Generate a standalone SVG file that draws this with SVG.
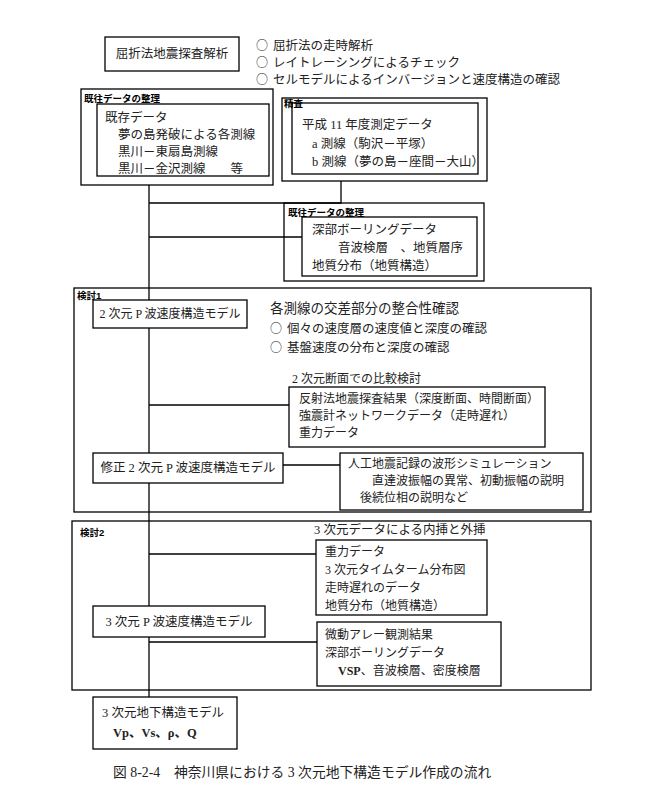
<svg xmlns="http://www.w3.org/2000/svg" width="660" height="788" viewBox="0 0 660 788">
<style>
.b{fill:#fff;stroke:#000;stroke-width:1.3}
.c{fill:none;stroke:#000;stroke-width:1.3}
.t{font-family:"Liberation Serif","Noto Sans CJK JP",serif;font-size:12.5px;fill:#222}
.m{text-anchor:middle}
.h{font-size:13.5px}
.s{font-size:12px}
.o{font-family:"Noto Sans CJK JP",sans-serif;font-size:12px}
.l{font-family:"Liberation Sans","Noto Sans CJK JP",sans-serif;font-size:9.5px;font-weight:bold;fill:#000}
</style>
<rect width="660" height="788" fill="#fff"/>
<g id="containers">
<rect class="c" x="81" y="89" width="192" height="96"/>
<rect class="c" x="282" y="98" width="205" height="83"/>
<rect class="c" x="284" y="203" width="200" height="78"/>
<rect class="c" x="74" y="288" width="517" height="224"/>
<rect class="c" x="72" y="521" width="519" height="169"/>
</g>
<g id="connectors" class="c">
<path d="M149 185V697"/>
<path d="M341 181V203H149"/>
<path d="M149 237H302"/>
<path d="M149 405H289"/>
<path d="M283 465H340"/>
<path d="M149 554H316"/>
<path d="M149 642H317"/>
</g>
<g id="n1">
<rect class="b" x="105" y="37" width="134" height="34"/>
<text class="t m" x="172" y="58">屈折法地震探査解析</text>
</g>
<g id="n1notes">
<text class="t" x="256" y="50"><tspan class="o">○</tspan><tspan x="273">屈折法の走時解析</tspan></text>
<text class="t" x="256" y="67"><tspan class="o">○</tspan><tspan x="273">レイトレーシングによるチェック</tspan></text>
<text class="t" x="256" y="84"><tspan class="o">○</tspan><tspan x="273">セルモデルによるインバージョンと速度構造の確認</tspan></text>
</g>
<g id="n2">
<rect class="b" x="97" y="104" width="172" height="72"/>
<text class="t" x="105" y="122">既存データ</text>
<text class="t" x="118" y="139">夢の島発破による各測線</text>
<text class="t" x="118" y="156">黒川－東扇島測線</text>
<text class="t" x="118" y="173">黒川－金沢測線　　等</text>
</g>
<g id="n3">
<rect class="b" x="292" y="103" width="186" height="71"/>
<text class="t" x="302" y="129">平成 11 年度測定データ</text>
<text class="t" x="312" y="148">a 測線（駒沢－平塚）</text>
<text class="t" x="312" y="166">b 測線（夢の島－座間－大山）</text>
</g>
<g id="n4">
<rect class="b" x="302" y="217" width="175" height="59"/>
<text class="t" x="312" y="234">深部ボーリングデータ</text>
<text class="t" x="338" y="252">音波検層　、地質層序</text>
<text class="t" x="312" y="270">地質分布（地質構造）</text>
</g>
<g id="n5">
<rect class="b" x="93" y="300" width="154" height="28"/>
<text class="t m" x="170" y="318" style="font-size:12px">2 次元 P 波速度構造モデル</text>
</g>
<g id="n5notes">
<text class="t h" x="270" y="313">各測線の交差部分の整合性確認</text>
<text class="t" x="270" y="333"><tspan class="o">○</tspan><tspan x="287">個々の速度層の速度値と深度の確認</tspan></text>
<text class="t" x="270" y="352"><tspan class="o">○</tspan><tspan x="287">基盤速度の分布と深度の確認</tspan></text>
<text class="t s" x="292" y="383">2 次元断面での比較検討</text>
</g>
<g id="n6">
<rect class="b" x="289" y="387" width="256" height="60"/>
<text class="t s" x="299" y="403">反射法地震探査結果（深度断面、時間断面）</text>
<text class="t s" x="299" y="420">強震計ネットワークデータ（走時遅れ）</text>
<text class="t s" x="299" y="437">重力データ</text>
</g>
<g id="n7">
<rect class="b" x="93" y="453" width="190" height="30"/>
<text class="t m" x="188" y="472">修正 2 次元 P 波速度構造モデル</text>
</g>
<g id="n8">
<rect class="b" x="340" y="453" width="243" height="57"/>
<text class="t s" x="348" y="468">人工地震記録の波形シミュレーション</text>
<text class="t s" x="372" y="485">直達波振幅の異常、初動振幅の説明</text>
<text class="t s" x="360" y="502">後続位相の説明など</text>
</g>
<g id="n9">
<text class="t" x="314" y="534">3 次元データによる内挿と外挿</text>
<rect class="b" x="316" y="540" width="171" height="75"/>
<text class="t s" x="325" y="556">重力データ</text>
<text class="t s" x="325" y="574">3 次元タイムターム分布図</text>
<text class="t s" x="325" y="592">走時遅れのデータ</text>
<text class="t s" x="325" y="610">地質分布（地質構造）</text>
</g>
<g id="n10">
<rect class="b" x="93" y="606" width="172" height="31"/>
<text class="t m" x="179" y="626">3 次元 P 波速度構造モデル</text>
</g>
<g id="n11">
<rect class="b" x="317" y="622" width="184" height="64"/>
<text class="t s" x="325" y="639">微動アレー観測結果</text>
<text class="t s" x="325" y="657">深部ボーリングデータ</text>
<text class="t s" x="338" y="675"><tspan font-weight="bold">VSP</tspan>、音波検層、密度検層</text>
</g>
<g id="n12">
<rect class="b" x="93" y="697" width="144" height="52"/>
<text class="t" x="102" y="717">3 次元地下構造モデル</text>
<text class="t" x="113" y="737" font-weight="bold">Vp、Vs、ρ、Q</text>
</g>
<g id="labels">
<text class="l" x="84" y="102">既往データの整理</text>
<text class="l" x="284" y="107">精査</text>
<text class="l" x="288" y="216">既往データの整理</text>
<text class="l" x="77" y="299">検討1</text>
<text class="l" x="80" y="536">検討2</text>
</g>
<text class="t" x="113" y="777" style="font-size:13.8px">図 8-2-4　神奈川県における 3 次元地下構造モデル作成の流れ</text>
</svg>
